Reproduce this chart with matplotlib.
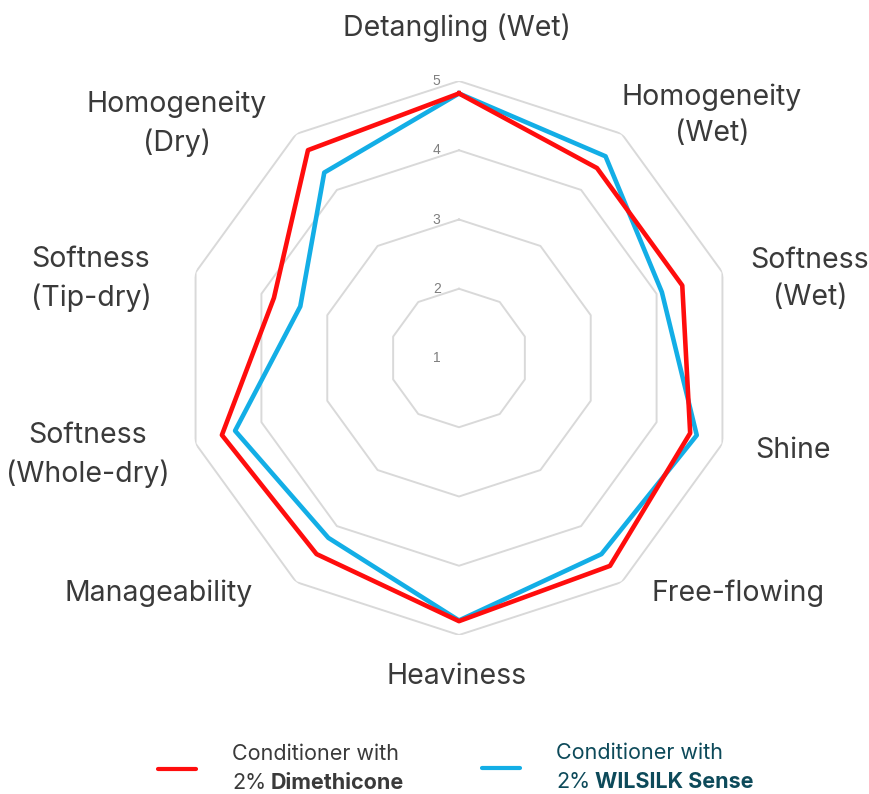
import numpy as np
import matplotlib
matplotlib.use('Agg')
import matplotlib.pyplot as plt

plt.rcParams['font.family'] = ['Inter', 'DejaVu Sans']

# categories, clockwise from top
categories = ['Detangling (Wet)', 'Homogeneity\n(Wet)', 'Softness\n(Wet)', 'Shine',
              'Free-flowing', 'Heaviness', 'Manageability', 'Softness\n(Whole-dry)',
              'Softness\n(Tip-dry)', 'Homogeneity\n(Dry)']

dimethicone = [4.82, 4.39, 4.39, 4.51, 4.71, 4.80, 4.50, 4.60, 3.81, 4.71]
wilsilk     = [4.82, 4.60, 4.08, 4.61, 4.50, 4.79, 4.21, 4.40, 3.41, 4.31]

levels = [2, 3, 4, 5]
tick_vals = [1, 2, 3, 4, 5]

# label centres in pixels (layout only)
label_px = [(457, 28), (712, 115), (810, 279), (793, 450), (738, 593),
            (457, 676), (159, 593), (88, 455), (91, 279), (177, 124)]

W, H = 869, 794
fig = plt.figure(figsize=(W / 100, H / 100), dpi=100)

cx, cy, R = 459, 358, 277
ax = fig.add_axes([(cx - R) / W, (H - cy - R) / H, 2 * R / W, 2 * R / H], projection='polar')
ax.set_theta_zero_location('N')
ax.set_theta_direction(-1)
ax.set_ylim(1, 5)
ax.grid(False)
ax.spines['polar'].set_visible(False)
ax.set_xticks([])
ax.set_yticks([])
ax.patch.set_alpha(0)

n = len(categories)
theta = np.linspace(0, 2 * np.pi, n, endpoint=False)
theta_c = np.append(theta, theta[0])

# decagon grid
for lv in levels:
    ax.plot(theta_c, [lv] * (n + 1), color='#d9d9d9', lw=1.4, zorder=1)

for tv in tick_vals:
    ax.annotate(str(tv), xy=(0, tv), xytext=(-16, 0), textcoords='offset points',
                ha='center', va='center', fontsize=10, color='#7f7f7f',
                family=['Liberation Sans', 'DejaVu Sans'])

red = '#ff0d0d'
blue = '#13aee6'
ax.plot(theta_c, wilsilk + wilsilk[:1], color=blue, lw=3.3, zorder=3)
ax.plot(theta_c, dimethicone + dimethicone[:1], color=red, lw=3.3, zorder=4)

for lab, (px, py) in zip(categories, label_px):
    fig.text(px / W, 1 - py / H, lab, ha='center', va='center', fontsize=20.5,
             color='#3a3a3a', linespacing=1.45)

# legend
def legend_entry(x0, y0, col, txtcol, bold):
    fig.add_artist(plt.Line2D([x0 / W, (x0 + 38) / W], [1 - y0 / H, 1 - y0 / H],
                              color=col, lw=3, solid_capstyle='round'))
    fig.text((x0 + 74) / W, 1 - (y0 - 15) / H, 'Conditioner with', fontsize=15.5,
             color=txtcol, va='center', ha='left')
    t = fig.text((x0 + 74) / W, 1 - (y0 + 14) / H, '2%', fontsize=15.5,
                 color=txtcol, va='center', ha='left')
    plt.annotate(bold, xy=(1, 0.5), xycoords=t, xytext=(3.5, 0), textcoords='offset points',
                 fontsize=15.5, fontweight='bold', color=txtcol, va='center', ha='left')

legend_entry(158, 769, red, '#3a3a3a', 'Dimethicone')
legend_entry(482, 768, blue, '#0d4a5a', 'WILSILK Sense')

fig.savefig('out.png', dpi=100)
